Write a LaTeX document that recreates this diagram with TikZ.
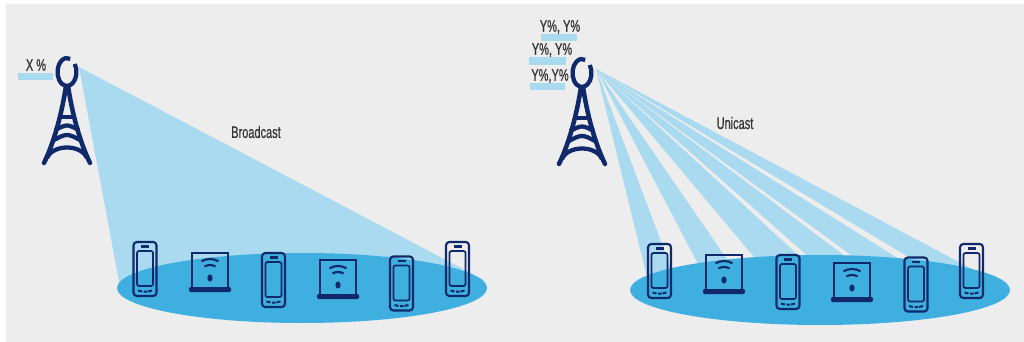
\documentclass[tikz,border=0pt]{standalone}
\usepackage{fontspec}
\setmainfont[FakeStretch=0.66,FakeBold=0.5]{Liberation Sans}
\definecolor{navy}{HTML}{10296B}
\definecolor{beam}{HTML}{A9DAF0}
\definecolor{pool}{HTML}{3FAFDF}
\definecolor{wall}{HTML}{EDEDED}
\definecolor{ink}{HTML}{333333}
\tikzset{
  tag/.style={text=ink,font=\fontsize{12.5}{12.5}\selectfont,inner sep=0pt},
  tower/.pic={
    \draw[navy,line width=3.2pt] (-35:9.5 and 14) arc[start angle=-35,end angle=290,x radius=9.5,y radius=14];
    \draw[navy,line width=3.4pt,line cap=round,line join=round]
      (-23,91) .. controls (-12,68) and (-5,40) .. (-1,14)
      (23,91) .. controls (12,68) and (5,40) .. (1,14);
    \draw[navy,line width=3.2pt] (-7,45) -- (7,45);
    \draw[navy,line width=3.2pt] (-12,58) .. controls (0,52) .. (12,58);
    \draw[navy,line width=3.2pt] (-15,69) .. controls (0,61) .. (15,69);
    \draw[navy,line width=3.2pt] (-20,86) .. controls (-14,72) and (14,72) .. (20,86);
  },
  phone/.pic={
    \draw[navy,line width=1.6pt,rounded corners=2.5] (-11.5,-27) rectangle (11.5,27);
    \draw[navy,line width=1.3pt,rounded corners=1.5] (-8,-18) rectangle (8,17);
    \draw[navy,line width=1.8pt] (-4,-22.5) -- (4,-22.5);
    \draw[navy,line width=1.5pt] (-7,21.5) -- (-3,22.5) (-1.5,22.5) -- (2,22.5) (3,22.5) -- (7,21.5);
  },
  laptop/.pic={
    \draw[navy,line width=1.3pt] (-18,18) -- (-18,-17) -- (18,-17) -- (18,18);
    \fill[navy,rounded corners=1] (-21,17) rectangle (21,22);
    \fill[navy] (0,8) ellipse (2.6 and 3.6);
    \foreach \r in {11,17} {
      \draw[navy,line width=1.6pt] (0,6) ++(240:\r) arc[start angle=240,end angle=300,radius=\r];
    }
  }
}
\begin{document}
\begin{tikzpicture}[x=0.75pt,y=-0.75pt]
  \useasboundingbox (0,0) rectangle (1024,342);
  \fill[wall] (6,4) rectangle (1024,342);
  \fill[beam] (79,67) -- (120,287) -- (480,287) -- (484,280) -- cycle;
  \foreach \a/\b in {37/57,79/104,127/164,171/201,207/241,251/284} {
    \fill[beam] (596,69) -- ({596+\a*1.43},285) -- ({596+\b*1.43},285) -- cycle;
  }
  \fill[pool] (302,288) ellipse (185 and 35);
  \fill[pool] (820,290) ellipse (190 and 35);
  \fill[beam] (18,73) rectangle (53,80);
  \fill[beam] (541,34) rectangle (577,41);
  \fill[beam] (529,57) rectangle (566,65);
  \fill[beam] (530,83) rectangle (565,90);
  \pic at (67,72) {tower};
  \pic at (582,73) {tower};
  \foreach \x/\y in {145/269,273.5/280,401.5/283.5,457.5/269,659.5/271,788/282,916/284.5,971.5/271} {
    \pic at (\x,\y) {phone};
  }
  \foreach \x/\y in {210/270,338/277,724/272,852/280} {
    \pic at (\x,\y) {laptop};
  }
  \node[tag] (xload) at (36,65) {X \%};
  \node[tag] (yload1) at (560,27) {Y\%, Y\%};
  \node[tag] (yload2) at (552,50) {Y\%, Y\%};
  \node[tag] (yload3) at (550,76) {Y\%,Y\%};
  \node[tag] (bcast) at (256,132) {Broadcast};
  \node[tag] (ucast) at (735,123) {Unicast};
\end{tikzpicture}
\end{document}
